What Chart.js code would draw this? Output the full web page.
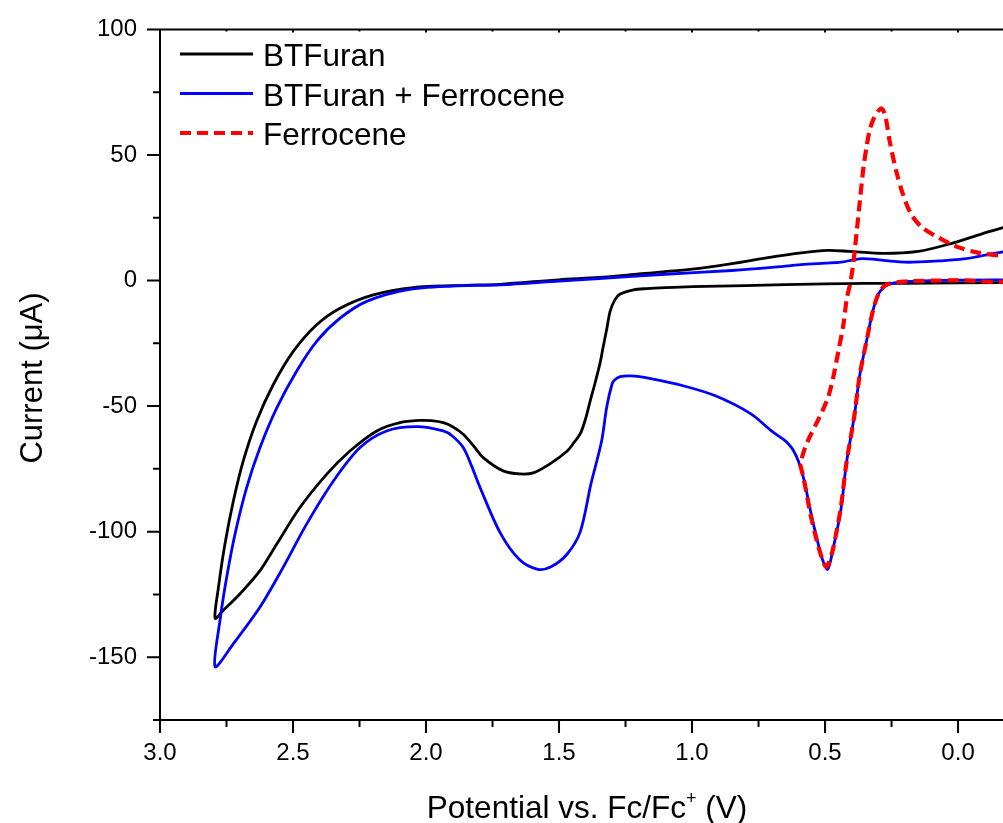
<!DOCTYPE html>
<html>
<head>
<meta charset="utf-8">
<script src="https://cdn.jsdelivr.net/npm/chart.js@4.4.0/dist/chart.umd.min.js"></script>
<style>
    html, body { margin: 0; padding: 0; background: #fff; overflow: hidden; }
    #wrap { width: 1003px; height: 823px; position: relative; }
</style>
</head>
<body>
<div id="wrap"><canvas id="cv-chart"></canvas></div>
<script>
// 数据: 电位 (V) 与电流 (µA), 按扫描顺序
const potentialBT = [-0.2, 0.2, 0.5, 0.8, 1.0, 1.1, 1.17, 1.22, 1.27, 1.29, 1.308, 1.32, 1.335, 1.346, 1.365, 1.383, 1.40, 1.42, 1.447, 1.47, 1.534, 1.597, 1.647, 1.71, 1.785, 1.82, 1.86, 1.90, 1.935, 1.98, 2.023, 2.098, 2.185, 2.286, 2.373, 2.474, 2.561, 2.624, 2.699, 2.762, 2.793,
    2.78, 2.756, 2.724, 2.687, 2.637, 2.574, 2.499, 2.411, 2.323, 2.198, 2.048, 1.85, 1.722, 1.5, 1.35, 1.2, 1.0, 0.85, 0.72, 0.59, 0.49, 0.41, 0.28, 0.15, 0.03, -0.09, -0.2];
const currentBT = [-0.8, -1.1, -1.3, -2.0, -2.4, -2.8, -3.2, -3.7, -5.4, -7.7, -12.3, -19, -27, -33, -41, -48, -55, -61, -65, -68, -73, -76.6, -77, -75.8, -70.5, -66, -61.2, -58.2, -56.6, -55.8, -55.7, -56.6, -59.9, -67.9, -77.1, -90.4, -104.9, -115.5, -124.7, -131.3, -134.5,
    -122, -105, -87.7, -71.8, -56, -41.4, -28.2, -17.6, -11, -5.7, -2.8, -1.9, -1.5, 0.3, 1.2, 2.6, 4.5, 6.7, 9, 11, 12, 11.6, 10.8, 11.6, 14.6, 18.6, 22];

const potentialBTFc = [-0.2, 0.0, 0.2, 0.24, 0.26, 0.28, 0.30, 0.32, 0.34, 0.37, 0.39, 0.42, 0.44, 0.47, 0.49, 0.51, 0.53, 0.55, 0.58, 0.60, 0.62, 0.64, 0.66, 0.70, 0.78, 0.91, 1.03, 1.16, 1.23, 1.27, 1.29, 1.30, 1.32, 1.34, 1.38, 1.42, 1.47, 1.53, 1.58, 1.65, 1.722, 1.797, 1.83, 1.86, 1.90, 1.935, 2.035, 2.148, 2.248, 2.348, 2.449, 2.536, 2.624, 2.724, 2.793,
    2.774, 2.749, 2.718, 2.674, 2.624, 2.561, 2.486, 2.411, 2.323, 2.223, 2.073, 1.9, 1.722, 1.5, 1.35, 1.1, 0.85, 0.7, 0.59, 0.50, 0.44, 0.39, 0.36, 0.32, 0.28, 0.22, 0.17, 0.07, -0.03, -0.13, -0.2];
const currentBTFc = [0.3, 0.2, -0.4, -0.9, -1.5, -2.8, -5.5, -12, -22, -38, -54, -73, -91, -107, -115, -111, -103, -94, -79, -72, -67.5, -64.8, -63, -60, -53, -46, -42, -39, -38, -38.3, -39.5, -41, -50, -64, -81, -100, -109, -114, -115, -111, -100.3, -82.4, -73.5, -66.5, -62, -59.9, -58.2, -59.9, -66.5, -79.8, -97, -114, -130, -144.6, -153.8,
    -135, -118, -101, -82.4, -66.5, -50.7, -36, -24.2, -15, -8.3, -3.7, -2.2, -1.7, -0.2, 0.8, 2.5, 4, 5.2, 6.3, 6.9, 7.3, 8.3, 8.7, 8.5, 8, 7.4, 7.3, 7.8, 8.7, 10.7, 12];

const potentialFc = [0.594, 0.58, 0.555, 0.53, 0.51, 0.495, 0.475, 0.455, 0.44, 0.42, 0.39, 0.37, 0.34, 0.32, 0.30, 0.28, 0.26, 0.2, 0.0, -0.2,
    -0.2, -0.158, -0.07, 0.005, 0.068, 0.131, 0.174, 0.206, 0.231, 0.256, 0.274, 0.287, 0.30, 0.315, 0.331, 0.343, 0.356, 0.368, 0.381, 0.393, 0.405, 0.418, 0.431, 0.45, 0.469, 0.487, 0.508, 0.531, 0.556, 0.575, 0.594];
const currentFc = [-73.1, -79, -93, -104, -111, -114, -109, -99, -90, -73, -54, -38, -22, -12, -5.5, -2.5, -1.3, -0.4, 0.1, 0.3,
    9.6, 9.9, 11.2, 13.5, 16.8, 20.8, 26, 34, 43, 55, 65.8, 68.5, 67.5, 65, 60.4, 53.8, 44.6, 32.7, 19.4, 7.5, -1, -7, -17.6, -28.2, -38.5, -46, -51.5, -56.6, -61.9, -66.5, -73.1];

const seriesLabels = ['BTFuran', 'BTFuran + Ferrocene', 'Ferrocene'];

// 坐标轴刻度
const xMajorTicks = [3.0, 2.5, 2.0, 1.5, 1.0, 0.5, 0.0];
const xMinorTicks = [2.75, 2.25, 1.75, 1.25, 0.75, 0.25];
const yMajorTicks = [100, 50, 0, -50, -100, -150];
const yMinorTicks = [75, 25, -25, -75, -125, -175];

const FONT = '"Liberation Sans", Arial, Helvetica, sans-serif';

function toPoints(xs, ys) {
    return xs.map((v, i) => ({ x: v, y: ys[i] }));
}

// 边框、刻度、图例与轴标题
const framePlugin = {
    id: 'frame',
    afterDraw(chart) {
        const { ctx, chartArea: a, scales: { x, y } } = chart;
        ctx.save();
        ctx.strokeStyle = '#000';
        ctx.lineWidth = 2;
        ctx.beginPath();
        ctx.moveTo(a.left, a.top);
        ctx.lineTo(a.right, a.top);
        ctx.moveTo(a.left, a.top);
        ctx.lineTo(a.left, a.bottom);
        ctx.lineTo(a.right, a.bottom);

        xMajorTicks.forEach(v => {
            const px = x.getPixelForValue(v);
            ctx.moveTo(px, a.bottom);
            ctx.lineTo(px, a.bottom + 13);
            ctx.moveTo(px, a.top);
            ctx.lineTo(px, a.top + 3);
        });
        xMinorTicks.forEach(v => {
            const px = x.getPixelForValue(v);
            ctx.moveTo(px, a.bottom);
            ctx.lineTo(px, a.bottom + 7);
            ctx.moveTo(px, a.top);
            ctx.lineTo(px, a.top + 2);
        });
        yMajorTicks.forEach(v => {
            const py = y.getPixelForValue(v);
            ctx.moveTo(a.left - 13, py);
            ctx.lineTo(a.left, py);
        });
        yMinorTicks.forEach(v => {
            const py = y.getPixelForValue(v);
            ctx.moveTo(a.left - 7, py);
            ctx.lineTo(a.left, py);
        });
        ctx.stroke();

        // 图例
        ctx.font = '31.5px ' + FONT;
        ctx.textAlign = 'left';
        ctx.textBaseline = 'alphabetic';
        chart.data.datasets.forEach((ds, i) => {
            const ly = 54 + 39.5 * i;
            ctx.save();
            ctx.strokeStyle = ds.borderColor;
            ctx.lineWidth = ds.borderWidth;
            ctx.setLineDash(ds.borderDash || []);
            ctx.beginPath();
            ctx.moveTo(180, ly);
            ctx.lineTo(253, ly);
            ctx.stroke();
            ctx.restore();
            ctx.fillStyle = '#000';
            ctx.fillText(ds.label, 263, ly + 12);
        });

        // x 轴标题 (带上标)
        ctx.fillStyle = '#000';
        const main = 'Potential vs. Fc/Fc';
        const tail = ' (V)';
        ctx.font = '31.5px ' + FONT;
        const w1 = ctx.measureText(main).width;
        const w3 = ctx.measureText(tail).width;
        ctx.font = '18px ' + FONT;
        const w2 = ctx.measureText('+').width;
        let tx = 587 - (w1 + w2 + w3) / 2;
        const base = 818;
        ctx.font = '31.5px ' + FONT;
        ctx.fillText(main, tx, base);
        tx += w1;
        ctx.font = '18px ' + FONT;
        ctx.fillText('+', tx, base - 14);
        tx += w2;
        ctx.font = '31.5px ' + FONT;
        ctx.fillText(tail, tx, base);

        // y 轴标题
        ctx.save();
        ctx.translate(42, 378);
        ctx.rotate(-Math.PI / 2);
        ctx.textAlign = 'center';
        ctx.font = '31px ' + FONT;
        ctx.fillText('Current (μA)', 0, 0);
        ctx.restore();

        ctx.restore();
    }
};

function initChart() {
    const ctx = document.getElementById('cv-chart').getContext('2d');
    new Chart(ctx, {
        type: 'scatter',
        data: {
            datasets: [{
                label: seriesLabels[0],
                data: toPoints(potentialBT, currentBT),
                borderColor: '#000000',
                borderWidth: 2.8,
                order: 3
            }, {
                label: seriesLabels[1],
                data: toPoints(potentialBTFc, currentBTFc),
                borderColor: '#0000ff',
                borderWidth: 2.8,
                order: 2
            }, {
                label: seriesLabels[2],
                data: toPoints(potentialFc, currentFc),
                borderColor: '#ff0000',
                borderWidth: 4.2,
                borderDash: [11, 6],
                order: 1
            }]
        },
        options: {
            responsive: true,
            maintainAspectRatio: false,
            animation: false,
            devicePixelRatio: 1,
            datasets: {
                scatter: {
                    showLine: true,
                    pointRadius: 0,
                    pointHoverRadius: 0,
                    tension: 0.3,
                    fill: false
                }
            },
            layout: {
                padding: { top: 17, left: 0, right: 0, bottom: 0 }
            },
            plugins: {
                legend: { display: false },
                tooltip: { enabled: false }
            },
            scales: {
                x: {
                    type: 'linear',
                    reverse: true,
                    min: -0.169,
                    max: 3.0,
                    grid: { display: false },
                    border: { display: false },
                    afterBuildTicks: scale => {
                        scale.ticks = xMajorTicks.map(v => ({ value: v }));
                    },
                    afterFit: scale => { scale.height = 103; },
                    ticks: {
                        includeBounds: false,
                        maxRotation: 0,
                        autoSkip: false,
                        padding: 11,
                        color: '#000',
                        font: { family: FONT, size: 24 },
                        callback: v => Number(v).toFixed(1)
                    }
                },
                y: {
                    type: 'linear',
                    min: -175,
                    max: 100,
                    grid: { display: false },
                    border: { display: false },
                    afterBuildTicks: scale => {
                        scale.ticks = yMajorTicks.map(v => ({ value: v }));
                    },
                    afterFit: scale => { scale.width = 160; },
                    ticks: {
                        includeBounds: false,
                        autoSkip: false,
                        padding: 15,
                        color: '#000',
                        font: { family: FONT, size: 24 },
                        callback: v => String(v)
                    }
                }
            }
        },
        plugins: [framePlugin]
    });
}

document.addEventListener('DOMContentLoaded', initChart);
</script>
</body>
</html>
